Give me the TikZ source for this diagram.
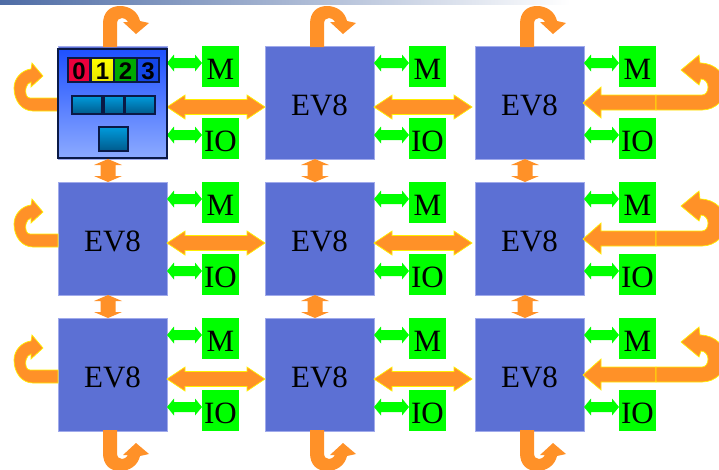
\documentclass[tikz,border=0pt]{standalone}
\usepackage{fontspec}
\setmainfont{Liberation Serif}
\newfontfamily\chipfont{Liberation Sans}
\usetikzlibrary{calc}
\definecolor{evblue}{RGB}{92,112,212}
\definecolor{evedge}{RGB}{160,170,235}
\definecolor{grn}{RGB}{0,255,0}
\definecolor{org}{RGB}{255,145,40}
\definecolor{yel}{RGB}{255,240,0}
\definecolor{chipedge}{RGB}{10,25,70}
\definecolor{chiptop}{RGB}{0,155,220}
\definecolor{chipbot}{RGB}{0,90,140}
\tikzset{
  evbox/.style={draw=evedge,line width=0.4pt,fill=evblue,inner sep=0pt,outer sep=0pt,anchor=north west,
    minimum width=109pt,minimum height=113pt,text height=69pt,text depth=44pt,
    font=\fontsize{31}{36}\selectfont},
  grbox/.style={fill=grn,inner sep=0pt,outer sep=0pt,anchor=north west,
    minimum width=37pt,minimum height=41pt,text height=33pt,text depth=8pt,
    font=\fontsize{31}{36}\selectfont},
  grarrow/.style={fill=grn},
  orarrow/.style={fill=org,draw=yel,line width=0.7pt,line join=miter},
  orplain/.style={fill=org},
  cell/.style={draw=chipedge,line width=1.2pt,inner sep=0pt,outer sep=0pt,anchor=north west,
    minimum height=24pt,text height=21pt,text depth=3pt,
    font=\chipfont\bfseries\fontsize{24}{26}\selectfont},
  chip/.style={draw=chipedge,line width=1.2pt,top color=chiptop,bottom color=chipbot}
}
% green double arrow between #1.east side and #2.west side, #3 below top of #1
\newcommand{\gdouble}[3]{%
  \fill[grarrow] let \p1=(#1.north east),\p2=(#2.north west) in
   (\x1,\y1-#3pt) -- (\x1+7pt,\y1-#3pt+8.5pt) -- (\x1+7pt,\y1-#3pt+5pt) -- (\x2-7pt,\y1-#3pt+5pt)
   -- (\x2-7pt,\y1-#3pt+8.5pt) -- (\x2,\y1-#3pt) -- (\x2-7pt,\y1-#3pt-8.5pt) -- (\x2-7pt,\y1-#3pt-5pt)
   -- (\x1+7pt,\y1-#3pt-5pt) -- (\x1+7pt,\y1-#3pt-8.5pt) -- cycle;}
% orange horizontal double arrow between two boxes; #3 = gap left before box #2
\newcommand{\hdouble}[3]{%
  \draw[orarrow] let \p1=(#1.north east),\p2=(#2.north west) in
   (\x1,\y1-61pt) -- (\x1+18pt,\y1-61pt+12pt) -- (\x1+18pt,\y1-61pt+7.5pt) -- (\x2-#3pt-18pt,\y1-61pt+7.5pt)
   -- (\x2-#3pt-18pt,\y1-61pt+12pt) -- (\x2-#3pt,\y1-61pt) -- (\x2-#3pt-18pt,\y1-61pt-12pt) -- (\x2-#3pt-18pt,\y1-61pt-7.5pt)
   -- (\x1+18pt,\y1-61pt-7.5pt) -- (\x1+18pt,\y1-61pt-12pt) -- cycle;}
% orange vertical double arrow between two boxes
\newcommand{\vdouble}[2]{%
  \fill[orplain] let \p1=(#1.south west),\p2=(#2.north west) in
   (\x1+50pt,\y1) -- (\x1+36pt,\y1-6pt) -- (\x1+42.5pt,\y1-6pt) -- (\x1+42.5pt,\y2+6pt) -- (\x1+36pt,\y2+6pt)
   -- (\x1+50pt,\y2) -- (\x1+64pt,\y2+6pt) -- (\x1+57.5pt,\y2+6pt) -- (\x1+57.5pt,\y1-6pt) -- (\x1+64pt,\y1-6pt) -- cycle;}
\newcommand{\looppath}{(45,1) -- (45,-22) .. controls (45,-34) and (52,-40) .. (62,-40)
   .. controls (72,-40) and (80,-34) .. (82,-25) -- (91,-23) -- (78,-12) -- (65,-24) -- (70,-24)
   .. controls (68,-27) and (66,-28) .. (64,-28) .. controls (61,-28) and (59,-26) .. (59,-22) -- (59,1) -- cycle}
\newcommand{\leftpath}{(0,52) -- (-28,52) .. controls (-32,52) and (-33,46) .. (-32,42)
   .. controls (-32,39) and (-29,37) .. (-27,36) -- (-27,41) -- (-15,30) -- (-26,17) -- (-27,23)
   .. controls (-36,24) and (-44,32) .. (-44,42) .. controls (-44,55) and (-36,65) .. (-25,65) -- (0,65) -- cycle}
\begin{document}
\begin{tikzpicture}[x=1pt,y=-1pt]
\useasboundingbox (0,0) rectangle (719,469);
\clip (0,0) rectangle (719,469);
\fill[white] (0,0) rectangle (719,469);
\shade[left color={rgb,255:red,78;green,108;blue,165},right color=white,shading angle=90] (0,0) rectangle (570,4.5);
% boxes
\foreach \r/\ry in {1/46,2/182,3/318}{
  \foreach \c/\bx/\gx in {1/58/202,2/265/409,3/475/619}{
    \node[evbox] (e\r\c) at (\bx,\ry) {EV8};
    \node[grbox] (m\r\c) at (\gx,\ry) {M};
    \node[grbox] (o\r\c) at (\gx,\ry+72) {IO};
    \gdouble{e\r\c}{m\r\c}{17}
    \gdouble{e\r\c}{o\r\c}{89}
  }
  \hdouble{e\r1}{e\r2}{0}
  \hdouble{e\r2}{e\r3}{3}
  % left loop
  \draw[orarrow,shift={(e\r1.north west)}] \leftpath;
  % right loop
  \begin{scope}[shift={(e\r3.north east)}]
    \draw[orarrow] (-1,57) -- (17,41) -- (17,49) -- (72,49) -- (72,64) -- (17,64) -- (17,72) -- cycle;
    \draw[orarrow] (72,49) -- (118,49) .. controls (122,49) and (124,45) .. (124,41)
      .. controls (124,37) and (121,33) .. (117,33) -- (115,39) -- (97,24) -- (115,9) -- (116,17)
      .. controls (132,17) and (142,29) .. (142,41) .. controls (142,53) and (132,64) .. (118,64) -- (72,64) -- cycle;
  \end{scope}
}
% vertical links
\foreach \c in {1,2,3}{
  \vdouble{e1\c}{e2\c}
  \vdouble{e2\c}{e3\c}
  \fill[orplain,shift={(e1\c.north west)}] \looppath;
  \fill[orplain,shift={(e3\c.south west)},yscale=-1] \looppath;
}
% first processor detail
\node[draw=chipedge,line width=1.2pt,inner sep=0pt,outer sep=0pt,anchor=north west,minimum width=109pt,minimum height=109pt,
  top color={rgb,255:red,30;green,80;blue,255},bottom color={rgb,255:red,140;green,170;blue,255}] (core) at (58,49) {};
\node[cell,minimum width=22pt,fill={rgb,255:red,235;green,0;blue,60}] (c0) at (68,58) {0};
\node[cell,minimum width=23pt,top color=yellow,bottom color={rgb,255:red,230;green,230;blue,0}] (c1) at (91,58) {1};
\node[cell,minimum width=23pt,fill={rgb,255:red,0;green,170;blue,0}] (c2) at (114,58) {2};
\node[cell,minimum width=22pt,fill={rgb,255:red,20;green,70;blue,230}] (c3) at (137,58) {3};
\draw[chip] (72,96) rectangle (102,114);
\draw[chip] (104,96) rectangle (124,114);
\draw[chip] (125,96) rectangle (155,114);
\draw[chip] (99,127) rectangle (128,151);
\end{tikzpicture}
\end{document}
